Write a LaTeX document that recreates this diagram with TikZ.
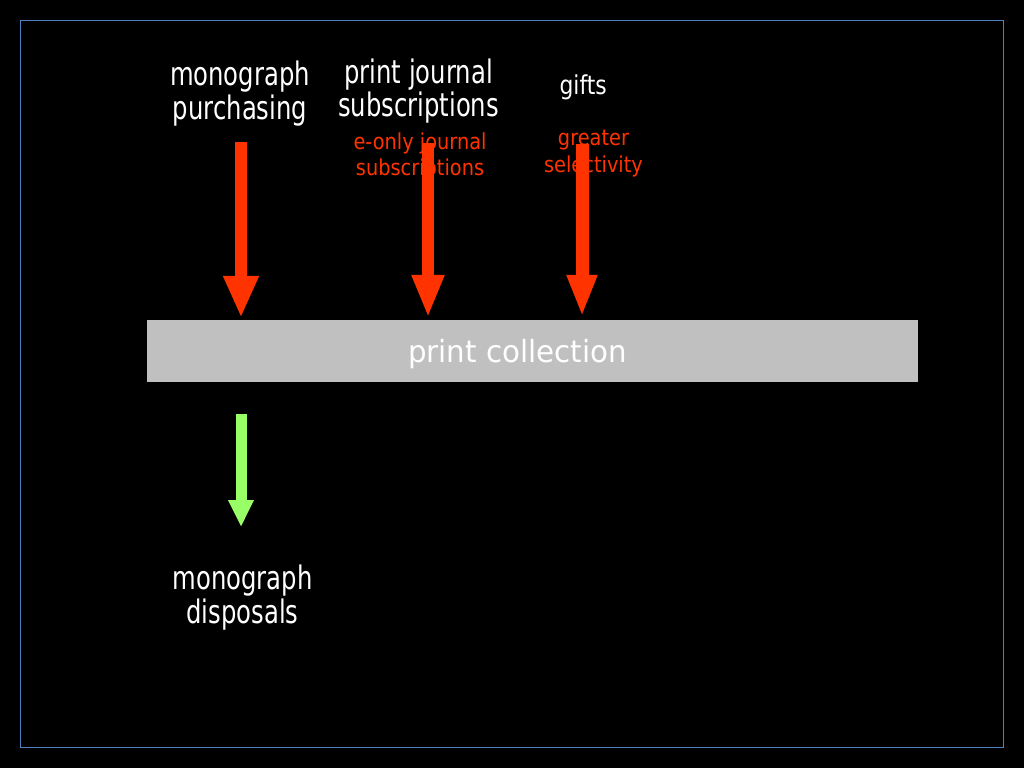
\documentclass[tikz,border=0pt]{standalone}
\usepackage{fontspec}
\setmainfont{DejaVu Sans}
\newfontfamily\labelfont[FakeStretch=0.75]{DejaVu Sans}
\newfontfamily\giftfont[FakeStretch=0.84]{DejaVu Sans}
\newfontfamily\collfont[FakeStretch=0.96]{DejaVu Sans}
\newfontfamily\notefont[FakeStretch=0.88]{DejaVu Sans}
\usepackage{tikz}
\usetikzlibrary{arrows.meta}
\usetikzlibrary{positioning}

\definecolor{inred}{HTML}{FF3300}
\definecolor{outgreen}{HTML}{99FF66}
\definecolor{bargray}{HTML}{C0C0C0}
\definecolor{frameblue}{HTML}{4F7FC0}

\begin{document}
\begin{tikzpicture}[x=1pt,y=-1pt,
	big text/.style={text=white,align=center,inner sep=0pt,font=\labelfont\fontsize{32.4}{33.4}\selectfont},
	small text/.style={text=inred,align=center,inner sep=0pt,font=\notefont\fontsize{22}{25.7}\selectfont},
	in arrow/.style={draw=inred,line width=12pt},
	out arrow/.style={draw=outgreen,line width=11pt}]
	
	\fill[black] (0,0) rectangle (1024,768);
	\useasboundingbox (0,0) rectangle (1024,768);
	\draw[frameblue,line width=1pt] (20.5,20.5) rectangle (1003.5,747);
	
	\node[fill=bargray,minimum width=771pt,minimum height=62pt,inner sep=0pt] (bar) at (532.5,351) {};
	\node[text=white,inner sep=0pt,font=\collfont\fontsize{30.5}{36}\selectfont] (coll) at (517.5,353.6) {print collection};
	
	\node[big text] (mono) at (240,93.4) {monograph\\purchasing};
	\node[big text] (journ) at (418.5,91) {print journal\\subscriptions};
	\node[big text,font=\giftfont\fontsize{26}{30}\selectfont] (gifts) at (583.2,87.5) {gifts};
	\node[small text] (eonly) at (420,156.1) {e-only journal\\subscriptions};
	\node[small text,font=\notefont\fontsize{22}{27}\selectfont] (select) at (593.5,153.9) {greater\\selectivity};
	\node[big text,font=\labelfont\fontsize{32.4}{34}\selectfont] (disp) at (242.5,597.4) {monograph\\disposals};
	
	\coordinate (s1) at (241,142);
	\coordinate (s2) at (428,143);
	\coordinate (s3) at (582,144);
	\coordinate (s4) at (241,414);
	\coordinate (e4) at (241,527);
	
	\draw[in arrow,-{Triangle[width=33pt,length=42pt]}] (s1) -- ([yshift=2pt]s1 |- bar.north);
	\draw[in arrow,-{Triangle[width=30pt,length=43pt]}] (s2) -- ([yshift=2pt]s2 |- bar.north);
	\draw[in arrow,line width=13pt,-{Triangle[width=28pt,length=42pt]}] (s3) -- ([yshift=3pt]s3 |- bar.north);
	\draw[out arrow,-{Triangle[width=24pt,length=27pt]}] (s4) -- (e4);
\end{tikzpicture}
\end{document}
